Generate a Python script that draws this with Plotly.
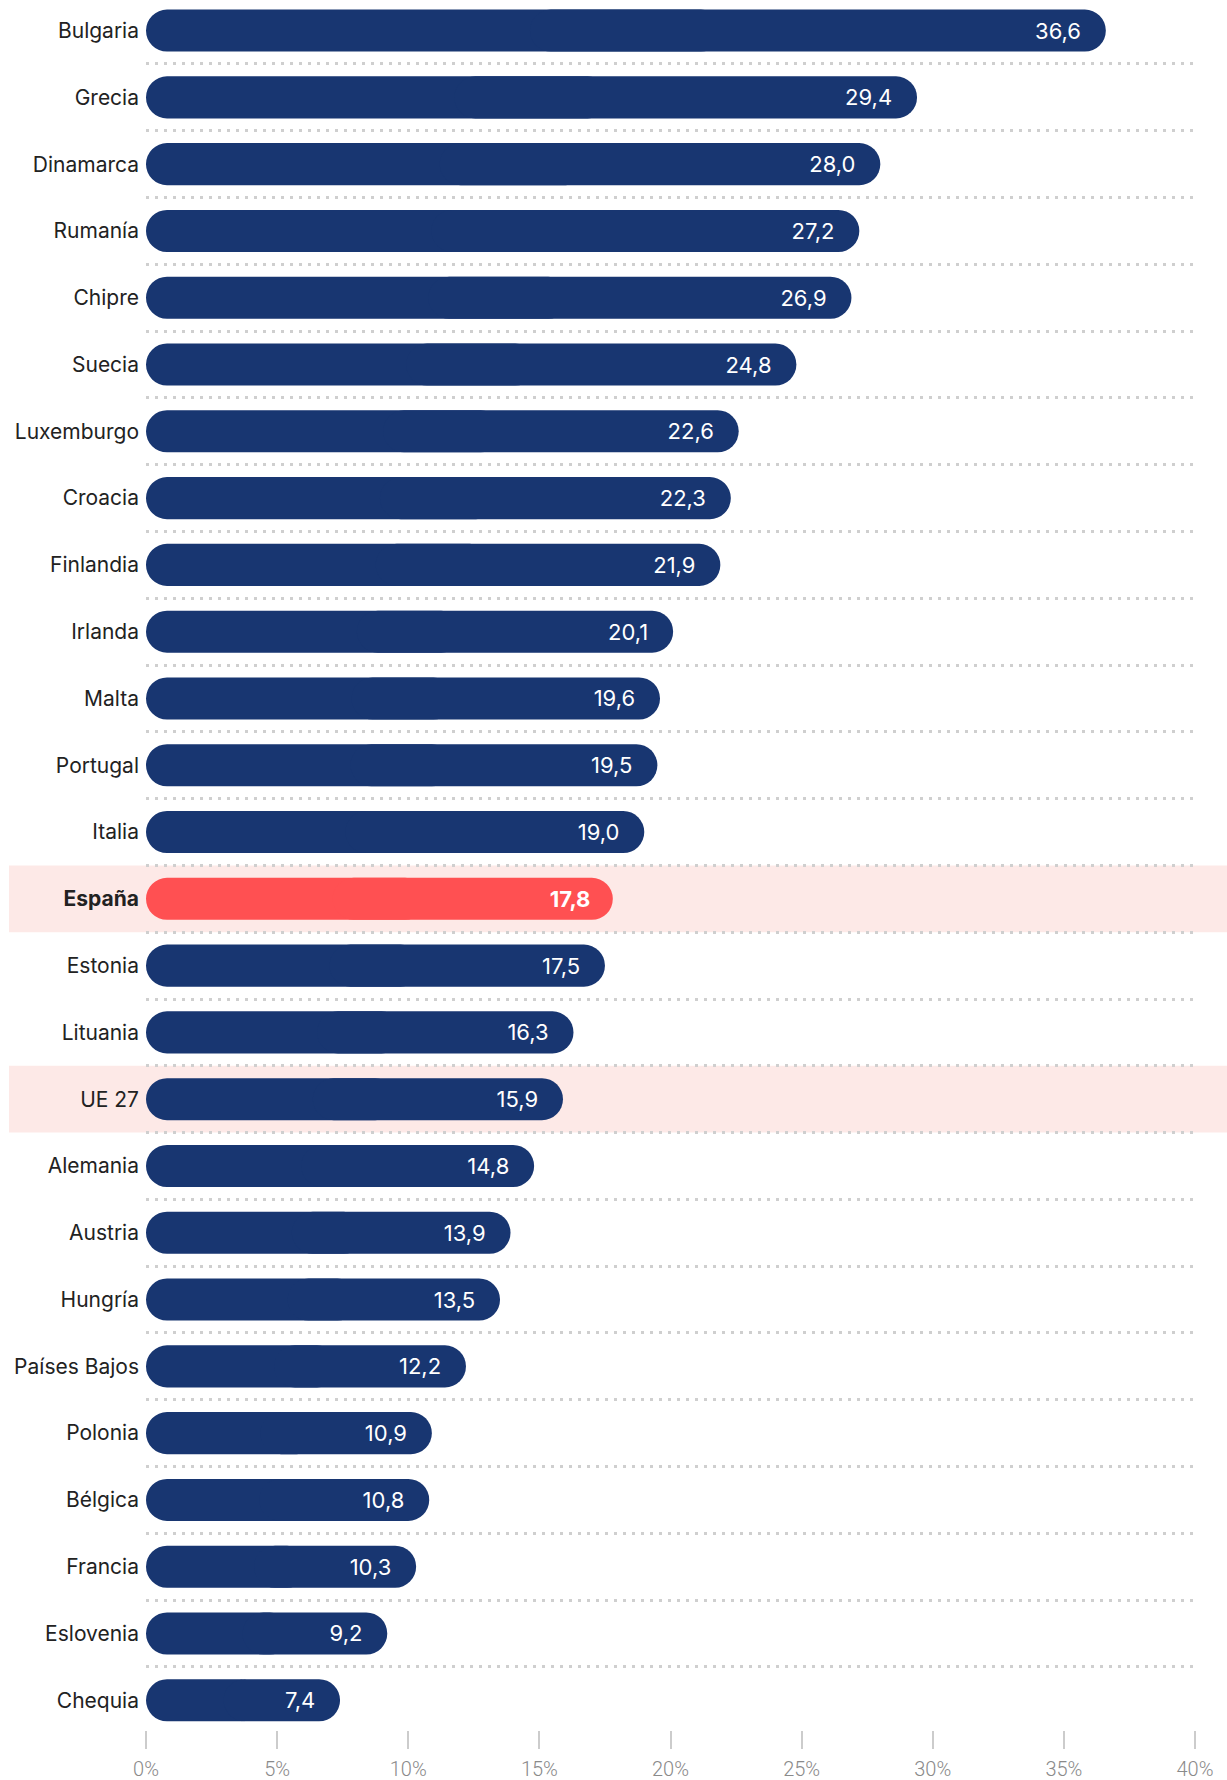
import plotly.graph_objects as go

# Datos
paises = ['Bulgaria', 'Grecia', 'Dinamarca', 'Rumanía', 'Chipre', 'Suecia', 'Luxemburgo',
          'Croacia', 'Finlandia', 'Irlanda', 'Malta', 'Portugal', 'Italia', 'España',
          'Estonia', 'Lituania', 'UE 27', 'Alemania', 'Austria', 'Hungría', 'Países Bajos',
          'Polonia', 'Bélgica', 'Francia', 'Eslovenia', 'Chequia']
valores = [36.6, 29.4, 28.0, 27.2, 26.9, 24.8, 22.6, 22.3, 21.9, 20.1, 19.6, 19.5, 19.0,
           17.8, 17.5, 16.3, 15.9, 14.8, 13.9, 13.5, 12.2, 10.9, 10.8, 10.3, 9.2, 7.4]
destacados = ['España', 'UE 27']
ticks_x = [0, 5, 10, 15, 20, 25, 30, 35, 40]

NAVY = '#183671'
RED = '#FF5052'
BAND = '#FDE9E7'
FONT = 'Inter'

pos = list(range(len(paises)))
colores = [RED if p == 'España' else NAVY for p in paises]
textos = [f'{v:.1f}'.replace('.', ',') + '\u00a0\u00a0\u2009' for v in valores]
textos = [f'<b>{t}</b>' if p == 'España' else t for t, p in zip(textos, paises)]
etiquetas = [f'<b>{p}</b>' if p == 'España' else p for p in paises]

# dos piezas solapadas para redondear ambos extremos de cada barra
izq_hasta = [v * 0.6 for v in valores]
der_desde = [v * 0.4 for v in valores]

fig = go.Figure()

# pieza izquierda (redondeada hacia el 0)
fig.add_trace(go.Bar(
    y=pos, x=[-b for b in izq_hasta], base=izq_hasta, orientation='h',
    marker=dict(color=colores, cornerradius='50%', line=dict(width=0)),
    width=0.63, hoverinfo='skip', showlegend=False,
))
# pieza derecha (redondeada hacia el valor) con la etiqueta
fig.add_trace(go.Bar(
    y=pos, x=[v - b for v, b in zip(valores, der_desde)], base=der_desde, orientation='h',
    marker=dict(color=colores, cornerradius='50%', line=dict(width=0)),
    width=0.63, showlegend=False,
    text=textos, textposition='inside', insidetextanchor='end',
    textfont=dict(family=FONT, size=22, color='white'),
    textangle=0,
))

# bandas de resaltado
for p in destacados:
    i = paises.index(p)
    fig.add_shape(type='rect', xref='paper', yref='y', x0=-0.1306, x1=1.04,
                  y0=i - 0.5, y1=i + 0.5, fillcolor=BAND, line_width=0, layer='below')

fig.update_layout(
    width=1227, height=1780,
    margin=dict(l=146, r=32, t=8, b=50),
    barmode='overlay',
    paper_bgcolor='white',
    plot_bgcolor='rgba(0,0,0,0)',
    font=dict(family=FONT, color='#222222'),
)

fig.update_yaxes(
    range=[25.445, -0.338], automargin=False,
    tickmode='array', tickvals=pos, ticktext=etiquetas,
    tickfont=dict(family=FONT, size=21, color='#222222'),
    showgrid=False, zeroline=False, ticks='', ticklabelstandoff=6,
    minor=dict(tickmode='array', tickvals=[i + 0.5 for i in pos[:-1]],
               showgrid=True, gridcolor='#CFCFCF', gridwidth=2.5,
               griddash='2.5px,6.5px', ticks=''),
)

fig.update_xaxes(
    range=[0, 40], automargin=False,
    tickmode='array', tickvals=ticks_x, ticktext=[f'{t}%' for t in ticks_x],
    tickfont=dict(family='Roboto', size=20, color='#8A8A8A', weight=300),
    ticks='outside', ticklen=18, tickwidth=1.5, tickcolor='#CCCCCC',
    showgrid=False, zeroline=False, showline=False, ticklabelstandoff=3,
)

fig.write_html('out.html', config={'displayModeBar': False},
               post_script="document.body.style.margin='0';")
